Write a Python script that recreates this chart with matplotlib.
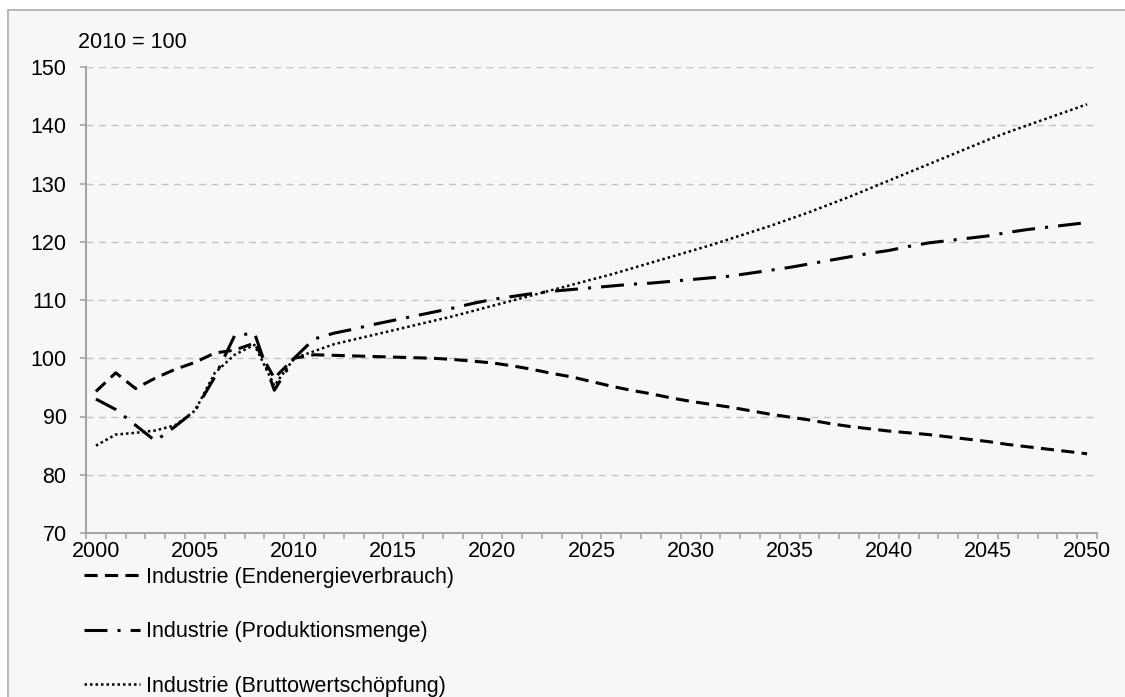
import numpy as np
import matplotlib.pyplot as plt
from matplotlib.patches import Rectangle
from matplotlib.lines import Line2D
from matplotlib.ticker import FixedLocator

years = list(range(2000, 2051))

endenergie = [94.3, 97.5, 94.8, 96.6, 98.1, 99.3, 100.9, 101.4, 102.6, 96.6, 100.0,
              100.6, 100.5, 100.4, 100.3, 100.2, 100.1, 100.0, 99.8, 99.5, 99.2,
              98.7, 98.1, 97.4, 96.8, 96.0, 95.2, 94.5, 93.9, 93.2, 92.6,
              92.1, 91.6, 91.0, 90.4, 89.9, 89.4, 88.8, 88.3, 87.9, 87.5,
              87.2, 86.9, 86.5, 86.1, 85.7, 85.2, 84.8, 84.4, 84.0, 83.6]

produktion = [93.0, 91.2, 88.5, 85.8, 88.3, 91.0, 96.8, 103.9, 104.3, 94.5, 100.0,
              103.3, 104.3, 105.0, 105.8, 106.5, 107.2, 107.9, 108.6, 109.4, 110.1,
              110.6, 111.1, 111.5, 111.8, 112.1, 112.4, 112.7, 112.9, 113.2, 113.5,
              113.8, 114.1, 114.6, 115.1, 115.6, 116.2, 116.8, 117.4, 118.0, 118.5,
              119.2, 119.8, 120.2, 120.6, 121.0, 121.6, 122.1, 122.5, 122.9, 123.3]

bws = [85.0, 86.9, 87.2, 87.6, 88.5, 91.0, 97.5, 100.6, 102.3, 95.3, 100.0,
       101.2, 102.4, 103.2, 104.0, 104.8, 105.6, 106.4, 107.2, 108.1, 109.0,
       109.9, 110.8, 111.7, 112.6, 113.5, 114.4, 115.4, 116.4, 117.4, 118.4,
       119.4, 120.5, 121.6, 122.7, 123.9, 125.1, 126.4, 127.7, 129.1, 130.5,
       131.9, 133.3, 134.7, 136.1, 137.5, 138.8, 140.0, 141.2, 142.4, 143.6]

labels = ["Industrie (Endenergieverbrauch)",
          "Industrie (Produktionsmenge)",
          "Industrie (Bruttowertschöpfung)"]

plt.rcParams['font.family'] = ['Liberation Sans', 'DejaVu Sans']
gray = "#a6a6a6"
fs = 15.5

fig = plt.figure(figsize=(11.25, 6.97), dpi=100)
fig.patch.set_facecolor("white")
# chart area background + border (only top and left edge are in the picture)
x0, y0 = 8 / 1125, 1 - 10 / 697
fig.patches.append(Rectangle((x0, 0), 1 - x0, y0, transform=fig.transFigure,
                             facecolor="#f7f7f7", edgecolor="none", zorder=-10))
fig.add_artist(Line2D([x0, 1], [y0, y0], transform=fig.transFigure, color="#b4b4b4", lw=1.3))
fig.add_artist(Line2D([x0, x0], [0, y0], transform=fig.transFigure, color="#b4b4b4", lw=1.3))

ax = fig.add_axes([86 / 1125, 1 - 533 / 697, (1097 - 86) / 1125, (533 - 67) / 697])
ax.set_facecolor("none")

ax.plot(years, endenergie, color="black", lw=2.2, dashes=(4.3, 2.4),
        dash_capstyle="butt", label=labels[0])
ax.plot(years, produktion, color="black", lw=2.2, dashes=(7.5, 3.3, 1, 3.3),
        dash_capstyle="butt", label=labels[1])
ax.plot(years, bws, color="black", lw=1.8, dashes=(1, 1.2),
        dash_capstyle="butt", label=labels[2])

ax.set_xlim(1999.5, 2050.5)
ax.set_ylim(70, 150)
ax.set_yticks(range(70, 151, 10))
ax.set_xticks(range(2000, 2051, 5))
ax.xaxis.set_minor_locator(FixedLocator(np.arange(1999.5, 2051, 1)))

ax.tick_params(axis="x", which="major", length=0, pad=6, labelsize=fs)
ax.tick_params(axis="x", which="minor", length=4.3, color=gray, width=1.2)
ax.tick_params(axis="y", length=4, color=gray, width=1.2, pad=10, labelsize=fs)

ax.grid(axis="y", color="#c3c3c3", linestyle=(0, (5, 4)), lw=1)
ax.set_axisbelow(True)
for s in ["top", "right"]:
    ax.spines[s].set_visible(False)
for s in ["left", "bottom"]:
    ax.spines[s].set_color(gray)
    ax.spines[s].set_linewidth(1.5)

fig.text(78 / 1125, 1 - 42 / 697, "2010 = 100", fontsize=fs, ha="left", va="center")

ax.legend(loc="upper left", bbox_to_anchor=(84 / 1125, 1 - 567 / 697),
          bbox_transform=fig.transFigure, frameon=False, fontsize=fs,
          handlelength=2.6, handletextpad=0.3, labelspacing=1.55,
          borderpad=0, borderaxespad=0)

plt.savefig("out.png", dpi=100, facecolor=fig.get_facecolor())
